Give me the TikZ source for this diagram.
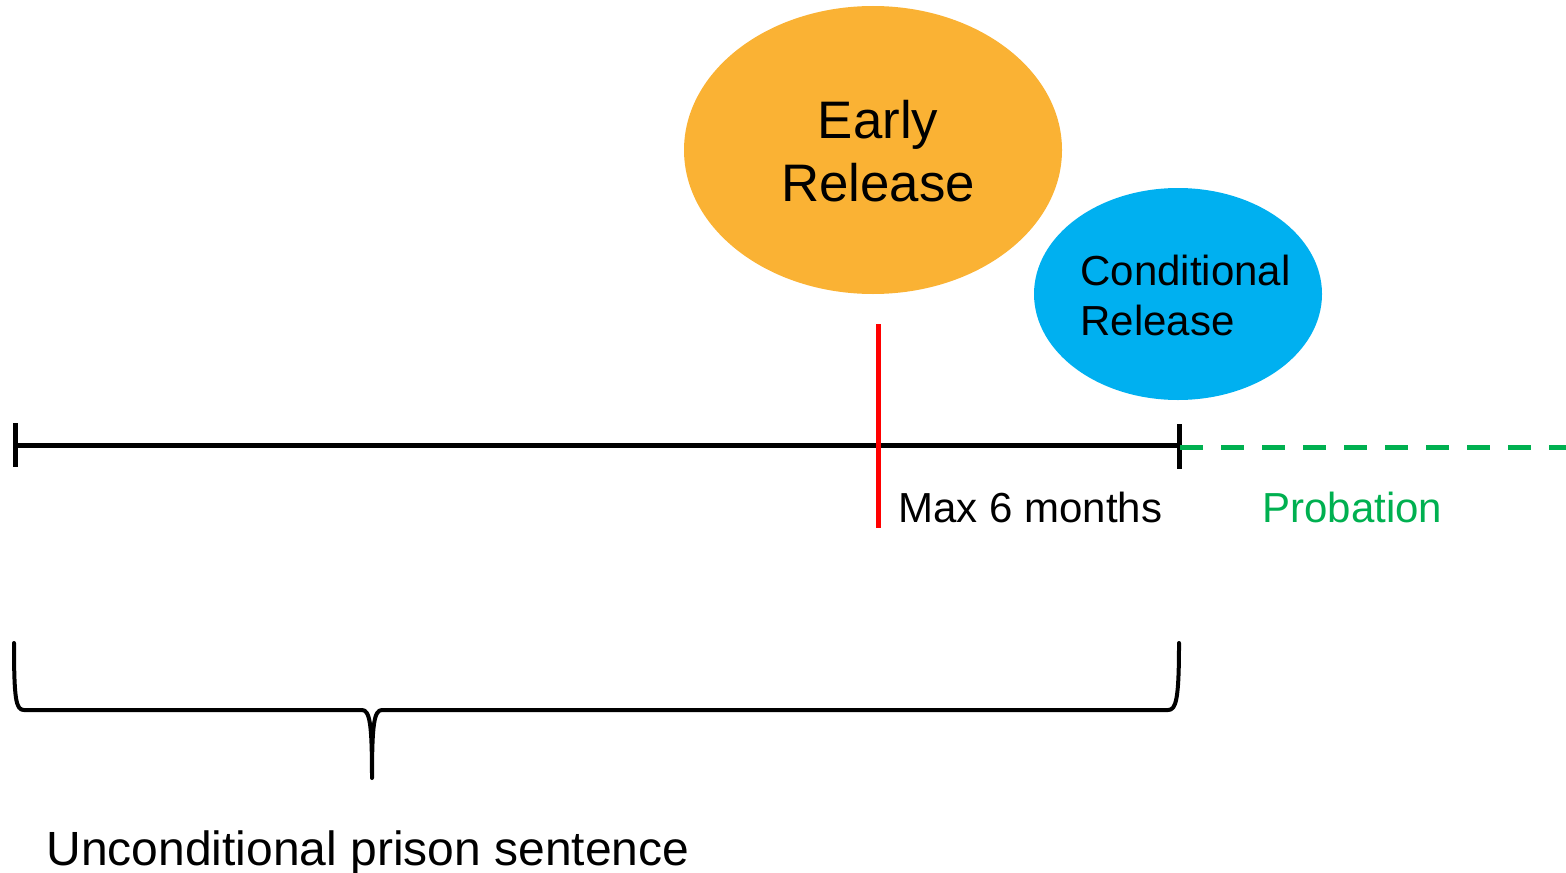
\documentclass[tikz,border=0pt]{standalone}
\usepackage{fontspec}
\setmainfont{Liberation Sans}
\usetikzlibrary{shapes.geometric}
\definecolor{erorange}{RGB}{250,178,52}
\definecolor{crblue}{RGB}{0,176,240}
\definecolor{probgreen}{RGB}{0,176,80}
\definecolor{markred}{RGB}{255,0,0}
\begin{document}
\begin{tikzpicture}[x=0.5pt,y=-0.5pt,
  blob/.style={ellipse, draw=none, inner sep=0pt},
  axis/.style={line width=2.5pt, black},
  tickline/.style={line width=2.5pt, black},
  bracepath/.style={line width=2pt, black, line cap=round, line join=round},
  lbl/.style={inner sep=0pt, font=\fontsize{21}{25}\selectfont}
]
\useasboundingbox (0,0) rectangle (1566,872);
% ellipses
\node[blob, fill=erorange, minimum width=189pt, minimum height=144pt] (erblob) at (873,150) {};
\node[blob, fill=crblue, minimum width=144pt, minimum height=106pt] (crblob) at (1178,294) {};
\node[inner sep=0pt, align=center, font=\fontsize{26.4}{31.5}\selectfont] (early) at (878,151) {Early\\Release};
\node[inner sep=0pt, align=left, anchor=west, font=\fontsize{21}{25}\selectfont] (cond) at (1080,295) {Conditional\\Release};
% timeline
\coordinate (L) at (15,445);
\coordinate (R) at (1179,445);
\coordinate (Rg) at (1180,447);
\coordinate (E) at (1566,447);
\draw[axis] (L) -- (R);
\draw[tickline] (15,423) -- (15,467);
\draw[tickline] (1179,424) -- (1179,469);
\draw[probgreen, line width=2.5pt, dash pattern=on 11.5pt off 9pt] (Rg) -- (E);
% red marker
\coordinate (redtop) at (878,324);
\coordinate (redbot) at (878,528);
\draw[markred, line width=2.5pt] (redtop) -- (redbot);
% labels
\node[lbl, anchor=base west] (max) at (898,522) {Max 6 months};
\node[lbl, anchor=base west, text=probgreen] (prob) at (1262,522) {Probation};
% brace
\draw[bracepath] (14,643) .. controls (14,700) and (16,710) .. (24,710)
  -- (362,710) .. controls (370,710) and (372,725) .. (372,778)
  .. controls (372,725) and (374,710) .. (382,710)
  -- (1168,710) .. controls (1176,710) and (1179,700) .. (1179,643);
\node[inner sep=0pt, anchor=base west, font=\fontsize{24}{29}\selectfont] (uncond) at (46,865) {Unconditional prison sentence};
\end{tikzpicture}
\end{document}
